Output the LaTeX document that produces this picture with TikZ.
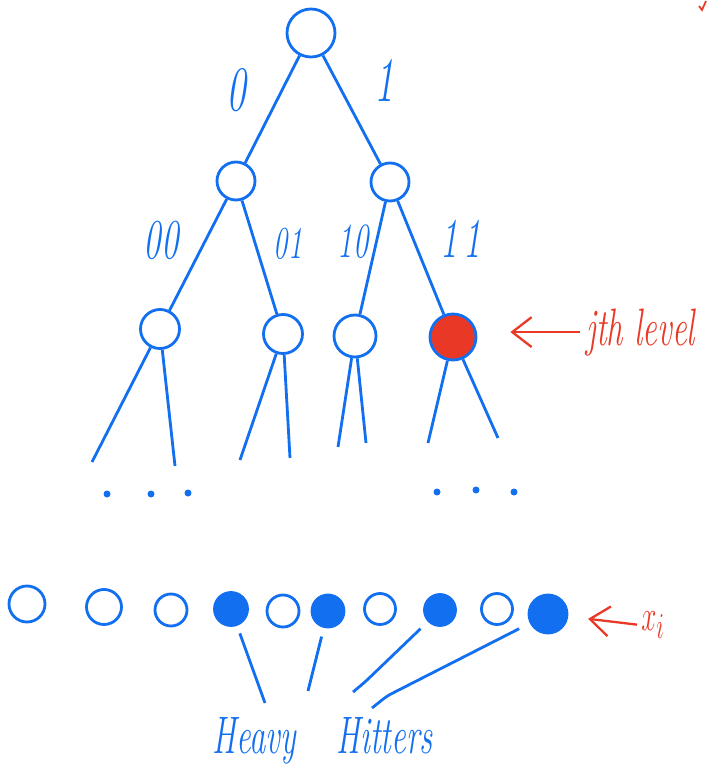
\documentclass[tikz,border=0pt]{standalone}
\usepackage{graphicx}
\usepackage{xcolor}
\usetikzlibrary{positioning}
\usetikzlibrary{arrows.meta}

\definecolor{penblue}{RGB}{18,112,240}
\definecolor{penred}{RGB}{233,57,38}
\newcommand{\scrawl}[1]{\scalebox{0.62}[1]{#1}}

\begin{document}
\begin{tikzpicture}[on grid, node distance=1cm, penblue, line width=1.6pt,
      vtx/.style={circle, draw=penblue, inner sep=0pt, minimum size=#1},
      hit/.style={vtx=#1, fill=penblue},
      blob/.style={circle, fill=penblue, inner sep=0pt, minimum size=0.14cm},
      scribble/.style={text=penblue, inner sep=0pt, font=\fontsize{#1}{#1}\selectfont\itshape},
      note/.style={text=penred, inner sep=0pt, font=\fontsize{30pt}{30pt}\selectfont\itshape},
      ptr/.style={draw=penred, line width=1.3pt, -{Straight Barb[length=11pt,width=17pt]}}]

      \useasboundingbox (0,0) rectangle (14.14,-15.58);

      \node[vtx=0.96cm] (root) at (6.22,-0.66) {};
      \node[vtx=0.76cm] (n0) [below left=2.96cm and 1.5cm of root] {};
      \node[vtx=0.76cm] (n1) [below right=2.98cm and 1.58cm of root] {};

      \node[vtx=0.78cm] (n00) [below left=2.96cm and 1.52cm of n0] {};
      \node[vtx=0.78cm] (n01) [below right=3.06cm and 0.94cm of n0] {};
      \node[vtx=0.84cm] (n10) [below left=3.08cm and 0.7cm of n1] {};
      \node[vtx=0.92cm, fill=penred] (n11) [below right=3.1cm and 1.26cm of n1] {};

      \coordinate[below left=2.66cm and 1.36cm of n00] (e1);
      \coordinate[below right=2.74cm and 0.3cm of n00] (e2);
      \coordinate[below left=2.52cm and 0.86cm of n01] (e3);
      \coordinate[below right=2.48cm and 0.14cm of n01] (e4);
      \coordinate[below left=2.22cm and 0.34cm of n10] (e5);
      \coordinate[below right=2.14cm and 0.22cm of n10] (e6);
      \coordinate[below left=2.12cm and 0.5cm of n11] (e7);
      \coordinate[below right=2.02cm and 0.9cm of n11] (e8);

      \node[scribble=36pt] (b0) at (4.72,-1.8) {\scrawl{0}};
      \node[scribble=36pt] (b1) at (7.68,-1.6) {\scrawl{1}};
      \node[scribble=32pt] (b00) at (3.22,-4.8) {\scrawl{00}};
      \node[scribble=26pt] (b01) at (5.76,-4.88) {\scrawl{01}};
      \node[scribble=28pt] (b10) at (7.06,-4.84) {\scrawl{10}};
      \node[scribble=32pt] (b11) at (9.22,-4.78) {\scrawl{1\,1}};

      \node[blob] (d1) at (2.14,-9.88) {};
      \node[blob] (d2) at (3.02,-9.88) {};
      \node[blob] (d3) at (3.76,-9.86) {};
      \node[blob] (d4) at (8.74,-9.84) {};
      \node[blob] (d5) at (9.52,-9.8) {};
      \node[blob] (d6) at (10.28,-9.84) {};

      \node[vtx=0.72cm] (c1) at (0.54,-12.08) {};
      \node[vtx=0.7cm] (c2) [right=1.54cm of c1, yshift=-0.06cm] {};
      \node[vtx=0.64cm] (c3) [right=1.34cm of c2, yshift=-0.06cm] {};
      \node[hit=0.66cm] (c4) [right=1.2cm of c3, yshift=0.02cm] {};
      \node[vtx=0.64cm] (c5) [right=1.04cm of c4, yshift=-0.04cm] {};
      \node[hit=0.64cm] (c6) [right=0.9cm of c5] {};
      \node[vtx=0.62cm] (c7) [right=1.04cm of c6, yshift=0.04cm] {};
      \node[hit=0.62cm] (c8) [right=1.2cm of c7, yshift=-0.02cm] {};
      \node[vtx=0.62cm] (c9) [right=1.14cm of c8, yshift=0.02cm] {};
      \node[hit=0.76cm] (c10) [right=1.02cm of c9, yshift=-0.1cm] {};

      \node[scribble=30pt, anchor=base west] (heavy) at (4.22,-15.06) {\scrawl{Heavy\hspace{1.25em}Hitters}};
      \node[note, anchor=base west] (jlevel) at (11.7,-6.9) {\scrawl{jth level}};
      \node[note, anchor=west] (xi) at (12.8,-12.5) {\scrawl{$x_i$}};

      \coordinate (h1) at (5.3,-14.06);
      \coordinate (h2) at (6.16,-13.82);
      \coordinate (k3) at (7.3,-13.64);
      \coordinate (h3) at (7.06,-13.84);
      \coordinate (k4) at (7.74,-13.92);
      \coordinate (h4) at (7.44,-14.16);

      \path[-]
        (root) edge (n0)
        (root) edge (n1)
        (n0) edge (n00)
        (n0) edge (n01)
        (n1) edge (n10)
        (n1) edge (n11)

        (n00) edge (e1)
        (n00) edge (e2)
        (n01) edge (e3)
        (n01) edge (e4)
        (n10) edge (e5)
        (n10) edge (e6)
        (n11) edge (e7)
        (n11) edge (e8);

      \draw[shorten <=0.16cm] (c4) -- (h1);
      \draw[shorten <=0.18cm] (c6) -- (h2);
      \draw[shorten <=0.2cm, rounded corners=3pt] (c8) -- (k3) -- (h3);
      \draw[shorten <=0.24cm, rounded corners=3pt] (c10) -- (k4) -- (h4);

      \draw[ptr, shorten >=0.66cm, shorten <=0.1cm] (jlevel.west) -- (jlevel.west -| n11.east);
      \draw[ptr, shorten >=0.4cm, shorten <=0.06cm] (xi.west) -- (c10);

      \draw[penred, line width=1pt] (13.98,-0.12) -- (14.04,-0.2) -- (14.12,-0.02);

    \end{tikzpicture}
\end{document}
